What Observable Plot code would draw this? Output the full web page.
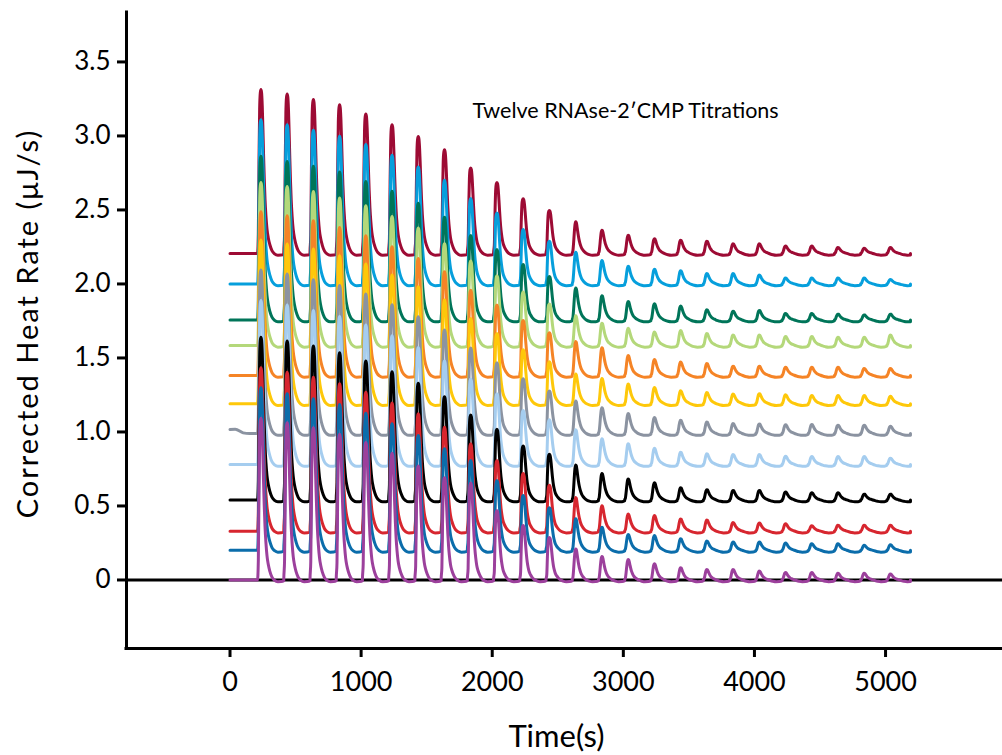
<!DOCTYPE html>
<html>
<head>
<meta charset="utf-8">
<script src="https://cdn.jsdelivr.net/npm/d3@7"></script>
<script src="https://cdn.jsdelivr.net/npm/@observablehq/plot@0.6"></script>
<style>
  html, body { margin: 0; padding: 0; background: #fff; }
  svg { display: block; }
</style>
</head>
<body>
<div id="chart"></div>
<script>
// ---------- data ----------
const seriesNames = ["Run 1","Run 2","Run 3","Run 4","Run 5","Run 6","Run 7","Run 8","Run 9","Run 10","Run 11","Run 12"];
const seriesColors = ["#9d0b34","#069fdc","#007559","#b4d87a","#f58426","#fec80a","#8b93a1","#a5cdef","#000000","#d7262f","#0b6dab","#9c409c"];
const baselines = [2.206, 2.0, 1.756, 1.585, 1.382, 1.191, 0.989, 0.78, 0.54, 0.33, 0.2, 0.0];

// injection peak times (s)
const peakTimes = [240,440,640,840,1040,1240,1440,1640,1840,2040,2240,2440,2640,2840,3040,3240,3440,3640,3840,4040,4240,4440,4640,4840,5040];
const peakKind = ["sharp","sharp","sharp","sharp","sharp","sharp","sharp","sharp","sharp","sharp","sharp","sharp",
                  "broad","broad","broad","broad","broad","broad","broad","broad","broad","broad","broad","broad","broad"];

// peak heights above each baseline (µJ/s)
const heightsRun1  = [1.107,1.078,1.04,1.004,0.943,0.87,0.79,0.70,0.578,0.48,0.369,0.29,0.214,0.157,0.123,0.10,0.09,0.083,0.065,0.065,0.05,0.05,0.04,0.035,0.04];
const heightsRun2  = [1.11,1.075,1.039,0.998,0.942,0.87,0.79,0.70,0.577,0.48,0.368,0.289,0.214,0.158,0.12,0.10,0.09,0.07,0.07,0.06,0.04,0.04,0.04,0.04,0.03];
const heightsRun3  = [1.106,1.072,1.04,1.0,0.937,0.87,0.79,0.694,0.572,0.476,0.375,0.295,0.217,0.165,0.126,0.11,0.095,0.07,0.06,0.065,0.045,0.045,0.04,0.035,0.04];
const heightsRun4  = [1.10,1.074,1.04,0.996,0.944,0.871,0.793,0.687,0.57,0.47,0.36,0.28,0.20,0.15,0.115,0.09,0.10,0.08,0.07,0.07,0.06,0.06,0.055,0.055,0.07];
const heightsRun5  = [1.106,1.079,1.045,1.0,0.944,0.869,0.79,0.70,0.575,0.475,0.371,0.288,0.229,0.187,0.135,0.108,0.09,0.08,0.062,0.062,0.055,0.055,0.055,0.047,0.047];
const heightsRun6  = [1.106,1.079,1.045,1.0,0.944,0.87,0.79,0.70,0.575,0.475,0.364,0.283,0.20,0.17,0.133,0.11,0.087,0.075,0.065,0.068,0.06,0.055,0.055,0.055,0.05];
const heightsRun7  = [1.106,1.078,1.04,1.0,0.943,0.87,0.79,0.70,0.578,0.478,0.37,0.288,0.22,0.175,0.135,0.108,0.09,0.078,0.068,0.065,0.06,0.062,0.057,0.057,0.05];
const heightsRun8  = [1.109,1.078,1.04,1.0,0.943,0.87,0.79,0.70,0.578,0.478,0.365,0.302,0.235,0.174,0.14,0.11,0.083,0.072,0.068,0.068,0.056,0.054,0.054,0.054,0.043];
const heightsRun9  = [1.10,1.074,1.04,0.995,0.94,0.867,0.789,0.698,0.574,0.478,0.365,0.309,0.237,0.18,0.142,0.117,0.083,0.07,0.065,0.065,0.055,0.05,0.05,0.04,0.04];
const heightsRun10 = [1.104,1.074,1.04,0.996,0.939,0.865,0.793,0.702,0.59,0.477,0.39,0.31,0.227,0.171,0.115,0.105,0.082,0.075,0.058,0.055,0.05,0.036,0.04,0.04,0.04];
const heightsRun11 = [1.099,1.058,1.024,0.986,0.927,0.855,0.776,0.686,0.607,0.472,0.371,0.288,0.213,0.157,0.107,0.1,0.078,0.063,0.057,0.057,0.05,0.045,0.045,0.034,0.038];
const heightsRun12 = [1.093,1.063,1.029,0.985,0.929,0.857,0.77,0.69,0.655,0.47,0.368,0.287,0.21,0.159,0.138,0.109,0.082,0.07,0.07,0.06,0.05,0.05,0.045,0.045,0.04];
const heightsBySeries = [heightsRun1,heightsRun2,heightsRun3,heightsRun4,heightsRun5,heightsRun6,heightsRun7,heightsRun8,heightsRun9,heightsRun10,heightsRun11,heightsRun12];

// shape of one injection peak (offset from peak time, s)
const shapeOffsets = [-30,-24,-19,-14,-9,-4,1,6,11,16,21,27,34,42,52,64,80,100,125,150,170];
const sharpShape   = [0,0.12,0.55,0.88,0.98,1.0,0.98,0.9,0.76,0.6,0.46,0.33,0.23,0.15,0.095,0.055,0.022,0.006,0,0,0];
const broadShape   = [0,0.1,0.35,0.66,0.9,1.0,0.98,0.87,0.72,0.58,0.46,0.35,0.25,0.17,0.105,0.058,0.022,0.006,0,0,0];
const undershoot   = [0,0,0,0,0,0,0,0,0,0,0,0,0,0,0,-0.002,-0.005,-0.009,-0.012,-0.011,-0.005];

// start-of-run drift of run 7 (grey)
const run7StartTimes   = [0, 40, 100, 150];
const run7StartOffsets = [0.027, 0.03, 0.005, 0];

const runStart = 0;
const runEnd = 5190;

const xTicks = [0,1000,2000,3000,4000,5000];
const yTicks = [0,0.5,1.0,1.5,2.0,2.5,3.0,3.5];

const titleText = "Twelve RNAse-2\u2032CMP Titrations";
const xLabel = "Time(s)";
const yLabel = "Corrected Heat Rate (\u03bcJ/s)";

// ---------- build tables ----------
function buildRows(si) {
  const base = baselines[si];
  const h = heightsBySeries[si];
  const rows = [];
  if (si === 6) {
    run7StartTimes.forEach((t, i) => rows.push({t, v: base + run7StartOffsets[i]}));
  } else {
    rows.push({t: runStart, v: base});
  }
  peakTimes.forEach((pt, k) => {
    const shape = peakKind[k] === "sharp" ? sharpShape : broadShape;
    shapeOffsets.forEach((off, j) => {
      const t = pt + off;
      if (t <= runEnd) rows.push({t, v: base + h[k] * shape[j] + undershoot[j]});
    });
  });
  rows.push({t: runEnd, v: base});
  return rows;
}
const tables = seriesNames.map((name, i) => buildRows(i));

const xDomain = [-789.5, 5892];
const yDomain = [-0.463, 3.834];

const lineMarks = tables.map((rows, i) =>
  Plot.line(rows, {x: "t", y: "v", stroke: seriesColors[i], strokeWidth: 3, curve: "monotone-x", strokeLinejoin: "round"})
);

const chart = Plot.plot({
  width: 1002,
  height: 755,
  marginTop: 12,
  marginBottom: 107,
  marginLeft: 126,
  marginRight: 0,
  style: {fontFamily: "Lato, sans-serif", background: "#fff", color: "#000", overflow: "visible"},
  x: {domain: xDomain},
  y: {domain: yDomain},
  marks: [
    Plot.ruleY([0], {stroke: "#000", strokeWidth: 3}),
    ...lineMarks,
    Plot.ruleX([xDomain[0]], {stroke: "#000", strokeWidth: 3, strokeLinecap: "square"}),
    Plot.ruleY([yDomain[0]], {stroke: "#000", strokeWidth: 3, strokeLinecap: "square"}),
    Plot.axisX({ticks: xTicks, tickSize: 9, tickPadding: 14, strokeWidth: 3, fontSize: 27, label: null, tickFormat: d => String(d)}),
    Plot.axisY({ticks: yTicks, tickSize: 9, tickPadding: 7, strokeWidth: 3, fontSize: 26, label: null, tickFormat: d => d === 0 ? "0" : d.toFixed(1)}),
    Plot.text([titleText], {text: d => d, frameAnchor: "top-left", textAnchor: "start", lineAnchor: "bottom", dx: 346, dy: 105, fontSize: 21.5}),
    Plot.text([yLabel], {text: d => d, frameAnchor: "left", textAnchor: "middle", rotate: -90, dx: -98, dy: -7, fontSize: 29}),
    Plot.text([xLabel], {text: d => d, frameAnchor: "bottom", textAnchor: "middle", lineAnchor: "bottom", dx: -8, dy: 98, fontSize: 31})
  ]
});
// letter spacing to mimic the wide geometric typeface of the original
d3.select(chart).selectAll("text")
  .filter(function() { return this.textContent === yLabel; })
  .attr("letter-spacing", "2px");
document.getElementById("chart").appendChild(chart);
</script>
</body>
</html>
